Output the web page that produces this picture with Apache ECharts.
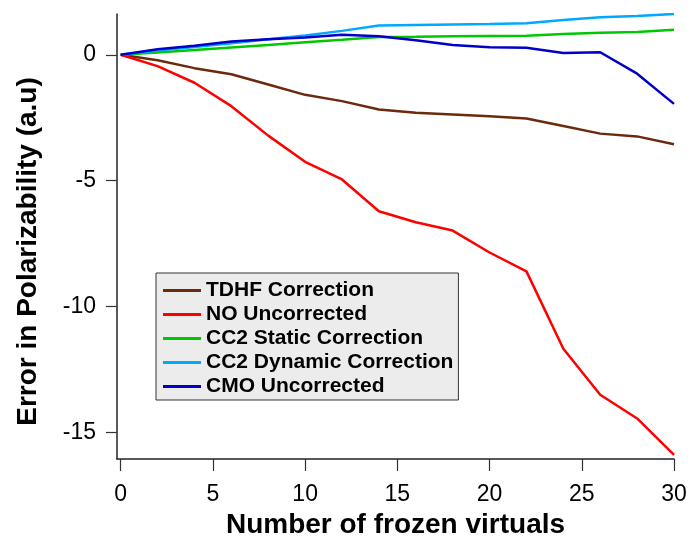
<!DOCTYPE html>
<html>
<head>
<meta charset="utf-8">
<script src="https://cdn.jsdelivr.net/npm/echarts@6/dist/echarts.min.js"></script>
<style>html,body{margin:0;padding:0;background:#fff;}#c{width:694px;height:544px;}</style>
</head>
<body>
<div id="c"></div>
<script>
var xValues = [0, 2, 4, 6, 8, 10, 12, 14, 16, 18, 20, 22, 24, 26, 28, 30];
var tdhfCorrection = [0, -0.22, -0.53, -0.77, -1.18, -1.59, -1.84, -2.17, -2.3, -2.37, -2.44, -2.53, -2.83, -3.13, -3.24, -3.55];
var noUncorrected = [0, -0.45, -1.11, -2.04, -3.21, -4.25, -4.95, -6.21, -6.65, -6.98, -7.85, -8.6, -11.67, -13.5, -14.44, -15.89];
var cc2Static = [0, 0.09, 0.19, 0.29, 0.39, 0.5, 0.6, 0.71, 0.72, 0.74, 0.75, 0.76, 0.83, 0.88, 0.91, 0.99];
var cc2Dynamic = [0, 0.17, 0.31, 0.46, 0.62, 0.77, 0.95, 1.16, 1.18, 1.2, 1.22, 1.25, 1.38, 1.49, 1.54, 1.62];
var cmoUncorrected = [0, 0.22, 0.36, 0.53, 0.62, 0.69, 0.8, 0.74, 0.58, 0.39, 0.3, 0.28, 0.07, 0.1, -0.75, -1.95];
var seriesNames = ['TDHF Correction', 'NO Uncorrected', 'CC2 Static Correction', 'CC2 Dynamic Correction', 'CMO Uncorrected'];
var xTicks = [0, 5, 10, 15, 20, 25, 30];
var yTicks = [-15, -10, -5, 0];

function pairs(arr) { return xValues.map(function (x, i) { return [x, arr[i]]; }); }
var colors = ['#6b2a0c', '#ff0000', '#00c800', '#00a8ff', '#0000c8'];
var dataSets = [tdhfCorrection, noUncorrected, cc2Static, cc2Dynamic, cmoUncorrected];

var chart = echarts.init(document.getElementById('c'), null, {renderer: 'canvas'});
var titleFont = {fontFamily: 'Liberation Sans, Arial', fontWeight: 'bold', fontSize: 28, color: '#000'};
chart.setOption({
  animation: false,
  backgroundColor: '#fff',
  grid: {left: 117, right: 20, top: 14, bottom: 83, containLabel: false},
  legend: {
    orient: 'vertical', left: 156, top: 273,
    backgroundColor: '#ececec', borderColor: '#333', borderWidth: 1,
    padding: [7, 5, 3, 7],
    itemWidth: 38, itemHeight: 3, itemGap: 3,
    icon: 'rect',
    data: seriesNames,
    textStyle: {fontFamily: 'Liberation Sans, Arial', fontWeight: 'bold', fontSize: 21, color: '#000', lineHeight: 20}
  },
  xAxis: {
    type: 'value', min: -0.2, max: 30,
    name: 'Number of frozen virtuals', nameLocation: 'middle', nameGap: 52,
    nameTextStyle: titleFont,
    axisLine: {show: true, onZero: false, lineStyle: {color: '#222', width: 1.5}},
    axisTick: {show: true, length: 12, customValues: xTicks, lineStyle: {color: '#333', width: 1.2}},
    axisLabel: {customValues: xTicks, margin: 24, fontFamily: 'Liberation Sans, Arial', fontSize: 23, color: '#000'},
    splitLine: {show: false}
  },
  yAxis: {
    type: 'value', min: -16.05, max: 1.62,
    name: 'Error in Polarizability (a.u)', nameLocation: 'middle', nameGap: 75,
    nameTextStyle: Object.assign({}, titleFont, {padding: [0, 30, 0, 0]}),
    axisLine: {show: true, onZero: false, lineStyle: {color: '#222', width: 1.5}},
    axisTick: {show: true, length: 11, customValues: yTicks, lineStyle: {color: '#333', width: 1.2}},
    axisLabel: {customValues: yTicks, margin: 21, fontFamily: 'Liberation Sans, Arial', fontSize: 23, color: '#000'},
    splitLine: {show: false}
  },
  series: seriesNames.map(function (n, i) {
    return {
      name: n, type: 'line', data: pairs(dataSets[i]), showSymbol: false, symbol: 'none',
      lineStyle: {color: colors[i], width: 2.5}, itemStyle: {color: colors[i]}
    };
  })
});
</script>
</body>
</html>
